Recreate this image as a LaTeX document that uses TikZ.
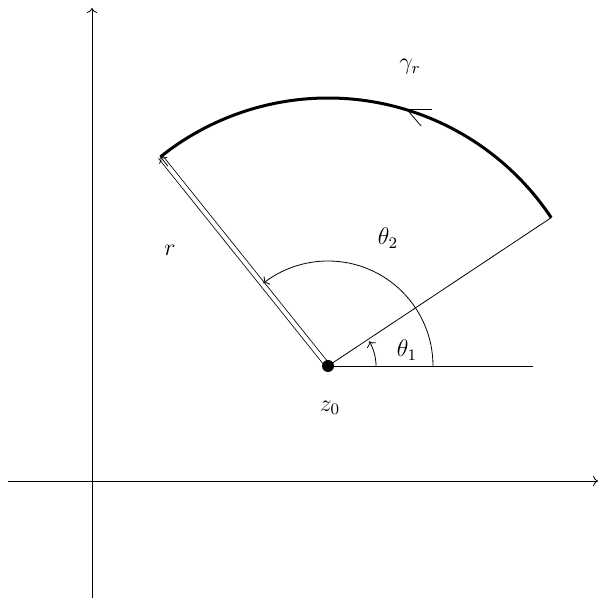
\documentclass[tikz,border=0pt]{standalone}
\usetikzlibrary{arrows.meta}
\tikzset{
  axis/.style={->},
  ray/.style={thin},
  radius line/.style={double, double distance=2pt},
  contour/.style={line width=1.5pt},
  angarc/.style={->},
  lab/.style={font=\large},
}
\begin{document}
\begin{tikzpicture}[x=0.5pt,y=0.5pt]
  \useasboundingbox (0,0) rectangle (600,608);
  % axes
  \coordinate (xstart) at (8,127);
  \coordinate (xend) at (598,127);
  \coordinate (ystart) at (92,10);
  \coordinate (yend) at (92,600);
  \draw[axis] (xstart) -- (xend);
  \draw[axis] (ystart) -- (yend);
  % sector
  \coordinate (z0) at (328,242);
  \coordinate (base) at (533,242);
  \coordinate (p1) at ([shift={(33.6:268)}]z0);
  \coordinate (p2) at ([shift={(128.7:268)}]z0);
  \coordinate (p2in) at ([shift={(128.7:256)}]z0);
  \draw[ray] (z0) -- (base);
  \draw[ray] (z0) -- (p1);
  \draw[radius line] (z0) -- (p2);
  \draw[->] (p2in) -- (p2);
  \draw[contour] (p1) arc[start angle=33.6, end angle=128.7, radius=268];
  \draw[angarc] ([shift={(0:48)}]z0) arc[start angle=0, end angle=31, radius=48];
  \draw[angarc] ([shift={(0:105)}]z0) arc[start angle=0, end angle=128, radius=105];
  \fill (z0) circle[radius=6];
  % orientation mark
  \coordinate (tip) at ([shift={(73.5:268)}]z0);
  \draw (tip) -- ++(28,0);
  \draw ([shift={(5,-3)}]tip) -- ++(12,-14);
  % labels
  \node[lab] (gamma) at (410,541) {$\gamma_r$};
  \node[lab] (th2) at (388,370) {$\theta_2$};
  \node[lab] (rlab) at (170,358) {$r$};
  \node[lab] (th1) at (407,258) {$\theta_1$};
  \node[lab] (zlab) at (330,200) {$z_0$};
\end{tikzpicture}
\end{document}
